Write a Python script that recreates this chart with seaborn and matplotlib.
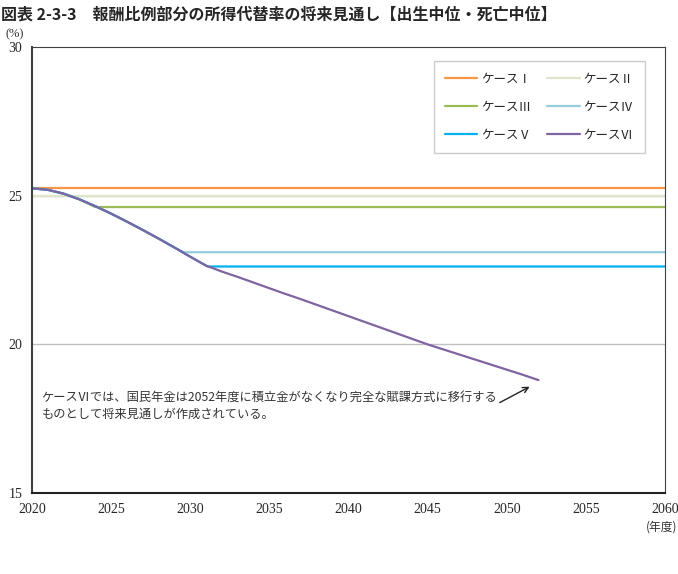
import numpy as np
import pandas as pd
from matplotlib import pyplot as plt
import seaborn as sns

# 所得代替率 (%)
case_names = ['ケースⅠ', 'ケースⅡ', 'ケースⅢ', 'ケースⅣ', 'ケースⅤ', 'ケースⅥ']
case_colors = ['#f79646', '#dfe5c8', '#9bbb59', '#93cddd', '#00b0f0', '#8064a2']

years_1 = [2020, 2060]
rate_1 = [25.25, 25.25]

years_2 = [2020, 2060]
rate_2 = [25.0, 25.0]

years_3 = [2020, 2021, 2022, 2023, 2024, 2060]
rate_3 = [25.25, 25.2, 25.07, 24.88, 24.62, 24.62]

years_4 = [2020, 2021, 2022, 2023, 2024, 2025, 2026, 2027, 2028, 2029, 2029.6, 2060]
rate_4 = [25.25, 25.2, 25.07, 24.88, 24.65, 24.4, 24.13, 23.85, 23.56, 23.26, 23.1, 23.1]

years_5 = [2020, 2021, 2022, 2023, 2024, 2025, 2026, 2027, 2028, 2029, 2030, 2031.1, 2060]
rate_5 = [25.25, 25.2, 25.07, 24.88, 24.65, 24.4, 24.13, 23.85, 23.56, 23.26, 22.95, 22.62, 22.62]

years_6 = list(range(2020, 2053))
rate_6 = [25.25, 25.2, 25.07, 24.88, 24.65, 24.4, 24.13, 23.85, 23.56, 23.26, 22.95,
          22.65, 22.45, 22.27, 22.08, 21.89, 21.7, 21.52, 21.33, 21.14, 20.95,
          20.76, 20.57, 20.38, 20.19, 20.0, 19.83, 19.66, 19.49, 19.32, 19.15,
          18.98, 18.8]

x_ticks = [2020, 2025, 2030, 2035, 2040, 2045, 2050, 2055, 2060]
y_ticks = [15, 20, 25, 30]

title = '図表 2-3-3\u3000報酬比例部分の所得代替率の将来見通し【出生中位・死亡中位】'
note = ('ケースⅥでは、国民年金は2052年度に積立金がなくなり完全な賦課方式に移行する\n'
        'ものとして将来見通しが作成されている。')

all_years = [years_1, years_2, years_3, years_4, years_5, years_6]
all_rates = [rate_1, rate_2, rate_3, rate_4, rate_5, rate_6]
frames = []
for name, yrs, vals in zip(case_names, all_years, all_rates):
    frames.append(pd.DataFrame({'year': yrs, 'rate': vals, 'case': name}))
df = pd.concat(frames, ignore_index=True)

sns.set_style('white')
plt.rcParams['font.family'] = ['Noto Sans CJK JP', 'DejaVu Sans']

fig = plt.figure(figsize=(6.78, 5.74), dpi=100)
ax = fig.add_axes([0.047, 0.141, 0.934, 0.777])

for yv in [20, 25]:
    ax.axhline(yv, color='#c0c0c0', lw=1.0, zorder=0)

sns.lineplot(data=df, x='year', y='rate', hue='case', hue_order=case_names,
             palette=dict(zip(case_names, case_colors)), lw=1.6, ax=ax,
             sort=False, estimator=None)

ax.set_xlim(2020, 2060)
ax.set_ylim(15, 30)
ax.set_xticks(x_ticks)
ax.set_yticks(y_ticks)
ax.set_xticklabels([str(t) for t in x_ticks], family='Liberation Serif', fontsize=10)
ax.set_yticklabels([str(t) for t in y_ticks], family='Liberation Serif', fontsize=10)
ax.tick_params(axis='x', direction='in', length=3, width=0.8, color='#404040', pad=7)
ax.tick_params(axis='y', length=0, pad=7)
ax.set_xlabel('')
ax.set_ylabel('')
for side in ['top', 'right']:
    ax.spines[side].set_color('#404040')
    ax.spines[side].set_linewidth(0.8)
ax.spines['left'].set_color('#404040')
ax.spines['left'].set_linewidth(1.5)
ax.spines['bottom'].set_color('#222222')
ax.spines['bottom'].set_linewidth(1.5)

# legend reads row by row: I II / III IV / V VI
handles, labels = ax.get_legend_handles_labels()
order = [0, 2, 4, 1, 3, 5]
ax.legend([handles[i] for i in order], [labels[i] for i in order],
          ncol=2, loc='upper right', bbox_to_anchor=(0.968, 0.968),
          borderaxespad=0, frameon=True, fancybox=False, edgecolor='#bfbfbf',
          fontsize=9, handlelength=2.6, columnspacing=1.3, labelspacing=1.2,
          borderpad=0.9, handletextpad=0.3)

ax.annotate('', xy=(2051.6, 18.62), xytext=(2049.4, 18.0),
            arrowprops=dict(arrowstyle='->', color='#222222', lw=1.0))
ax.text(2020.6, 18.4, note, fontsize=8.8, color='#333333', va='top',
        linespacing=1.3)

fig.text(0.002, 0.988, title, fontsize=11.5, fontweight='bold', va='top')
fig.text(0.008, 0.935, '(%)', fontsize=9, family='Liberation Serif', color='#333333')
fig.text(0.999, 0.076, '(年度)', fontsize=8.5, color='#333333', ha='right')

plt.savefig('out.png', dpi=100)
